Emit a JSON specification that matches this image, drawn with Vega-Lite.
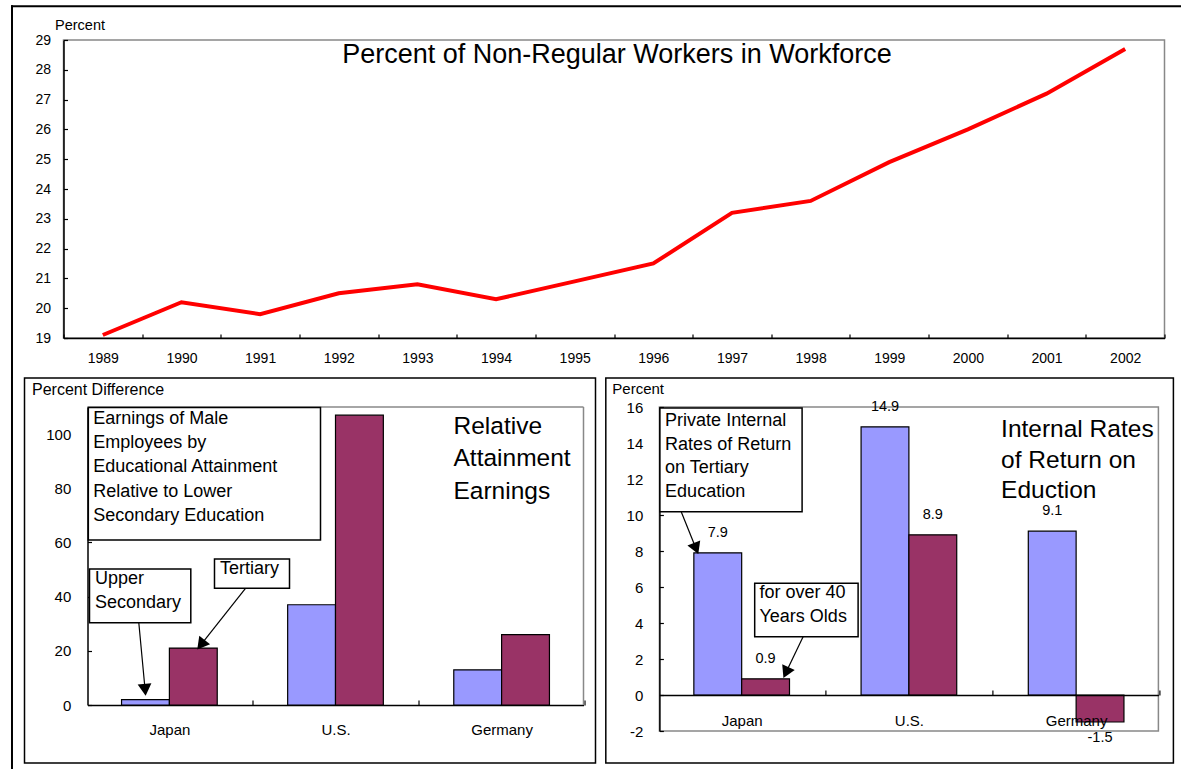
{
  "$schema": "https://vega.github.io/schema/vega-lite/v6.json",
  "background": "white",
  "padding": {"left": 9.5, "top": 4, "right": 0, "bottom": 0},
  "autosize": {"type": "pad"},
  "bounds": "full",
  "spacing": -4,
  "config": {
    "font": "Liberation Sans",
    "view": {"stroke": "#888888", "strokeWidth": 1.5},
    "axis": {
      "domainColor": "#000000", "domainWidth": 1.5,
      "tickColor": "#000000", "tickWidth": 1.2, "tickSize": -4,
      "labelColor": "#000000", "labelFont": "Liberation Sans", "labelFontSize": 15,
      "titleFont": "Liberation Sans", "titleColor": "#000000", "titleFontWeight": "normal", "titleFontSize": 15,
      "titleAngle": 0, "titleAlign": "left", "titleBaseline": "alphabetic",
      "grid": false, "labelOverlap": false
    },
    "text": {"font": "Liberation Sans", "color": "#000000"}
  },
  "datasets": {
    "nonreg": [
      {"year": "1989", "pct": 19.1}, {"year": "1990", "pct": 20.2}, {"year": "1991", "pct": 19.8},
      {"year": "1992", "pct": 20.5}, {"year": "1993", "pct": 20.8}, {"year": "1994", "pct": 20.3},
      {"year": "1995", "pct": 20.9}, {"year": "1996", "pct": 21.5}, {"year": "1997", "pct": 23.2},
      {"year": "1998", "pct": 23.6}, {"year": "1999", "pct": 24.9}, {"year": "2000", "pct": 26.0},
      {"year": "2001", "pct": 27.2}, {"year": "2002", "pct": 28.7}
    ],
    "earn": [
      {"country": "Japan", "level": "Upper Secondary", "value": 2},
      {"country": "Japan", "level": "Tertiary", "value": 21},
      {"country": "U.S.", "level": "Upper Secondary", "value": 37},
      {"country": "U.S.", "level": "Tertiary", "value": 107},
      {"country": "Germany", "level": "Upper Secondary", "value": 13},
      {"country": "Germany", "level": "Tertiary", "value": 26}
    ],
    "irr": [
      {"country": "Japan", "group": "Tertiary Education", "value": 7.9},
      {"country": "Japan", "group": "Over 40 Years Olds", "value": 0.9},
      {"country": "U.S.", "group": "Tertiary Education", "value": 14.9},
      {"country": "U.S.", "group": "Over 40 Years Olds", "value": 8.9},
      {"country": "Germany", "group": "Tertiary Education", "value": 9.1},
      {"country": "Germany", "group": "Over 40 Years Olds", "value": -1.5}
    ],
    "one": [{}]
  },
  "vconcat": [
    {
      "width": 1101,
      "height": 298,
      "resolve": {"scale": {"x": "independent"}, "axis": {"y": "independent"}},
      "layer": [
        {
          "data": {"name": "nonreg"},
          "mark": {"type": "line", "color": "#FF0000", "strokeWidth": 4},
          "encoding": {
            "x": {"field": "year", "type": "ordinal",
              "scale": {"type": "band", "paddingInner": 0, "paddingOuter": 0},
              "axis": {"title": null, "labelAngle": 0, "tickBand": "extent", "labelPadding": 17.3, "labelFontSize": 14}},
            "y": {"field": "pct", "type": "quantitative",
              "scale": {"domain": [19, 29], "nice": false, "zero": false},
              "axis": {"title": "Percent", "values": [19, 20, 21, 22, 23, 24, 25, 26, 27, 28, 29], "labelOverlap": false, "labelPadding": 17, "labelFontSize": 14, "titleFontSize": 14.5, "titleX": -9, "titleY": -10.7}}
          }
        },
        {
          "data": {"name": "one"},
          "mark": {"type": "text", "text": "Percent of Non-Regular Workers in Workforce", "fontSize": 27, "align": "center", "baseline": "alphabetic"},
          "encoding": {
            "x": {"datum": 7.038, "type": "quantitative", "scale": {"domain": [0, 14], "nice": false, "zero": false}, "axis": null},
            "y": {"datum": 28.228, "type": "quantitative", "scale": {"domain": [19, 29], "nice": false, "zero": false}, "axis": null}
          }
        },
        {
          "data": {"name": "one"},
          "mark": {"type": "rule", "color": "#000000", "strokeWidth": 2, "strokeCap": "square"},
          "encoding": {
            "x": {"datum": -0.6549, "type": "quantitative", "scale": {"domain": [0, 14], "nice": false, "zero": false}, "axis": null},
            "y": {"datum": 30.131, "type": "quantitative", "scale": {"domain": [19, 29], "nice": false, "zero": false}, "axis": null},
            "y2": {"datum": 17.681}
          }
        },
        {
          "data": {"name": "one"},
          "mark": {"type": "rule", "color": "#000000", "strokeWidth": 2, "strokeCap": "square"},
          "encoding": {
            "x": {"datum": -0.6549, "type": "quantitative", "scale": {"domain": [0, 14], "nice": false, "zero": false}, "axis": null},
            "x2": {"datum": 14.216},
            "y": {"datum": 30.131, "type": "quantitative", "scale": {"domain": [19, 29], "nice": false, "zero": false}, "axis": null}
          }
        }
      ]
    },
    {
      "hconcat": [
        {
          "width": 520,
          "height": 298,
          "view": {"stroke": null},
          "resolve": {"scale": {"x": "independent", "xOffset": "independent"}, "axis": {"y": "independent"}},
          "layer": [
            {
              "data": {"name": "earn"},
              "mark": {"type": "bar", "stroke": "#000000", "strokeWidth": 1.2},
              "encoding": {
                "x": {"field": "country", "type": "nominal",
                  "scale": {"domain": ["Japan", "U.S.", "Germany"], "paddingInner": 0.424, "paddingOuter": 0.205, "range": [24, 520]},
                  "axis": {"title": null, "labelAngle": 0, "bandPosition": 1, "tickOffset": 35.2, "labelOffset": -35.2, "labelPadding": 22.3, "tickSize": -5}},
                "xOffset": {"field": "level", "type": "nominal", "scale": {"domain": ["Upper Secondary", "Tertiary"], "paddingInner": 0, "paddingOuter": 0}},
                "y": {"field": "value", "type": "quantitative",
                  "scale": {"domain": [0, 110], "nice": false, "zero": false},
                  "axis": {"title": "Percent Difference", "titleFontSize": 16, "values": [0, 20, 40, 60, 80, 100], "labelOverlap": false, "labelPadding": 20.7, "titleX": -56, "titleY": -12.7, "offset": -24}},
                "color": {"field": "level", "type": "nominal",
                  "scale": {"domain": ["Upper Secondary", "Tertiary"], "range": ["#9999FF", "#993366"]}, "legend": null}
              }
            },
            {
              "data": {"name": "one"},
              "mark": {"type": "rule", "color": "#888888", "strokeWidth": 1.5},
              "encoding": {
                "x": {"datum": 0, "type": "quantitative", "scale": {"domain": [-0.14516, 3], "nice": false, "zero": false}, "axis": null},
                "x2": {"datum": 3},
                "y": {"datum": 110, "type": "quantitative", "scale": {"domain": [0, 110], "nice": false, "zero": false}, "axis": null}
              }
            },
            {
              "data": {"name": "one"},
              "mark": {"type": "rule", "color": "#888888", "strokeWidth": 1.5},
              "encoding": {
                "x": {"datum": 3, "type": "quantitative", "scale": {"domain": [-0.14516, 3], "nice": false, "zero": false}, "axis": null},
                "y": {"datum": 110, "type": "quantitative", "scale": {"domain": [0, 110], "nice": false, "zero": false}, "axis": null},
                "y2": {"datum": 0}
              }
            },
            {
              "data": {"name": "one"},
              "mark": {"type": "rect", "fill": "transparent", "stroke": "#000000", "strokeWidth": 1.5},
              "encoding": {
                "x": {"datum": -0.381, "type": "quantitative", "scale": {"domain": [-0.14516, 3], "nice": false, "zero": false}, "axis": null},
                "x2": {"datum": 3.0726},
                "y": {"datum": 120.7, "type": "quantitative", "scale": {"domain": [0, 110], "nice": false, "zero": false}, "axis": null},
                "y2": {"datum": -21.41}
              }
            },
            {
              "data": {"name": "one"},
              "mark": {"type": "rule", "color": "#000000", "strokeWidth": 2, "strokeCap": "square"},
              "encoding": {
                "x": {"datum": -0.4567, "type": "quantitative", "scale": {"domain": [-0.14516, 3], "nice": false, "zero": false}, "axis": null},
                "y": {"datum": 120.7, "type": "quantitative", "scale": {"domain": [0, 110], "nice": false, "zero": false}, "axis": null},
                "y2": {"datum": -23.25}
              }
            },
            {
              "data": {"name": "one"},
              "mark": {"type": "rect", "fill": "#FFFFFF", "stroke": "#000000", "strokeWidth": 1.5},
              "encoding": {
                "x": {"datum": 0.005, "type": "quantitative", "scale": {"domain": [-0.14516, 3], "nice": false, "zero": false}, "axis": null},
                "x2": {"datum": 1.4093},
                "y": {"datum": 109.8, "type": "quantitative", "scale": {"domain": [0, 110], "nice": false, "zero": false}, "axis": null},
                "y2": {"datum": 60.91}
              }
            },
            {
              "data": {"name": "one"},
              "mark": {"type": "text", "text": "Earnings of Male\nEmployees by\nEducational Attainment\nRelative to Lower\nSecondary Education", "lineBreak": "\n", "lineHeight": 24.2, "fontSize": 18, "align": "left", "baseline": "middle"},
              "encoding": {
                "x": {"datum": 0.0345, "type": "quantitative", "scale": {"domain": [-0.14516, 3], "nice": false, "zero": false}, "axis": null},
                "y": {"datum": 105.57, "type": "quantitative", "scale": {"domain": [0, 110], "nice": false, "zero": false}, "axis": null}
              }
            },
            {
              "data": {"name": "one"},
              "mark": {"type": "rect", "fill": "#FFFFFF", "stroke": "#000000", "strokeWidth": 1.5},
              "encoding": {
                "x": {"datum": 0.0121, "type": "quantitative", "scale": {"domain": [-0.14516, 3], "nice": false, "zero": false}, "axis": null},
                "x2": {"datum": 0.6248},
                "y": {"datum": 50.2, "type": "quantitative", "scale": {"domain": [0, 110], "nice": false, "zero": false}, "axis": null},
                "y2": {"datum": 30.38}
              }
            },
            {
              "data": {"name": "one"},
              "mark": {"type": "text", "text": "Upper\nSecondary", "lineBreak": "\n", "lineHeight": 24, "fontSize": 18, "align": "left", "baseline": "middle"},
              "encoding": {
                "x": {"datum": 0.0454, "type": "quantitative", "scale": {"domain": [-0.14516, 3], "nice": false, "zero": false}, "axis": null},
                "y": {"datum": 46.51, "type": "quantitative", "scale": {"domain": [0, 110], "nice": false, "zero": false}, "axis": null}
              }
            },
            {
              "data": {"name": "one"},
              "mark": {"type": "rect", "fill": "#FFFFFF", "stroke": "#000000", "strokeWidth": 1.5},
              "encoding": {
                "x": {"datum": 0.7681, "type": "quantitative", "scale": {"domain": [-0.14516, 3], "nice": false, "zero": false}, "axis": null},
                "x2": {"datum": 1.2218},
                "y": {"datum": 53.89, "type": "quantitative", "scale": {"domain": [0, 110], "nice": false, "zero": false}, "axis": null},
                "y2": {"datum": 43.08}
              }
            },
            {
              "data": {"name": "one"},
              "mark": {"type": "text", "text": "Tertiary", "fontSize": 18, "align": "left", "baseline": "middle"},
              "encoding": {
                "x": {"datum": 0.8014, "type": "quantitative", "scale": {"domain": [-0.14516, 3], "nice": false, "zero": false}, "axis": null},
                "y": {"datum": 50.09, "type": "quantitative", "scale": {"domain": [0, 110], "nice": false, "zero": false}, "axis": null}
              }
            },
            {
              "data": {"name": "one"},
              "mark": {"type": "rule", "color": "#000000", "strokeWidth": 1.2},
              "encoding": {
                "x": {"datum": 0.3103, "type": "quantitative", "scale": {"domain": [-0.14516, 3], "nice": false, "zero": false}, "axis": null},
                "x2": {"datum": 0.3472},
                "y": {"datum": 30.38, "type": "quantitative", "scale": {"domain": [0, 110], "nice": false, "zero": false}, "axis": null},
                "y2": {"datum": 6.35}
              }
            },
            {
              "data": {"name": "one"},
              "mark": {"type": "point", "shape": "triangle", "size": 190, "filled": true, "color": "#000000", "opacity": 1, "angle": 174.6},
              "encoding": {
                "x": {"datum": 0.3472, "type": "quantitative", "scale": {"domain": [-0.14516, 3], "nice": false, "zero": false}, "axis": null},
                "y": {"datum": 6.35, "type": "quantitative", "scale": {"domain": [0, 110], "nice": false, "zero": false}, "axis": null}
              }
            },
            {
              "data": {"name": "one"},
              "mark": {"type": "rule", "color": "#000000", "strokeWidth": 1.2},
              "encoding": {
                "x": {"datum": 0.9556, "type": "quantitative", "scale": {"domain": [-0.14516, 3], "nice": false, "zero": false}, "axis": null},
                "x2": {"datum": 0.6938},
                "y": {"datum": 43.08, "type": "quantitative", "scale": {"domain": [0, 110], "nice": false, "zero": false}, "axis": null},
                "y2": {"datum": 22.81}
              }
            },
            {
              "data": {"name": "one"},
              "mark": {"type": "point", "shape": "triangle", "size": 190, "filled": true, "color": "#000000", "opacity": 1, "angle": 218.3},
              "encoding": {
                "x": {"datum": 0.6938, "type": "quantitative", "scale": {"domain": [-0.14516, 3], "nice": false, "zero": false}, "axis": null},
                "y": {"datum": 22.81, "type": "quantitative", "scale": {"domain": [0, 110], "nice": false, "zero": false}, "axis": null}
              }
            },
            {
              "data": {"name": "one"},
              "mark": {"type": "text", "text": "Relative\nAttainment\nEarnings", "lineBreak": "\n", "lineHeight": 32.2, "fontSize": 24.5, "align": "left", "baseline": "middle"},
              "encoding": {
                "x": {"datum": 2.2137, "type": "quantitative", "scale": {"domain": [-0.14516, 3], "nice": false, "zero": false}, "axis": null},
                "y": {"datum": 102.51, "type": "quantitative", "scale": {"domain": [0, 110], "nice": false, "zero": false}, "axis": null}
              }
            }
          ]
        },
        {
          "width": 499,
          "height": 324,
          "resolve": {"scale": {"x": "independent", "xOffset": "independent"}, "axis": {"y": "independent"}},
          "layer": [
            {
              "data": {"name": "irr"},
              "mark": {"type": "bar", "stroke": "#000000", "strokeWidth": 1.2},
              "encoding": {
                "x": {"field": "country", "type": "nominal",
                  "scale": {"domain": ["Japan", "U.S.", "Germany"], "paddingInner": 0.428, "paddingOuter": 0.206},
                  "axis": {"title": null, "labelAngle": 0, "bandPosition": 1, "tickOffset": 35.8, "labelOffset": -35.8, "labelPadding": 23.8, "tickSize": -5, "offset": -36, "zindex": 1}},
                "xOffset": {"field": "group", "type": "nominal", "scale": {"domain": ["Tertiary Education", "Over 40 Years Olds"], "paddingInner": 0, "paddingOuter": 0}},
                "y": {"field": "value", "type": "quantitative",
                  "scale": {"domain": [-2, 16], "nice": false, "zero": false},
                  "axis": {"title": "Percent", "values": [-2, 0, 2, 4, 6, 8, 10, 12, 14, 16], "labelOverlap": false, "labelExpr": "'' + datum.value", "labelPadding": 20.6, "titleX": -47.6, "titleY": -14}},
                "color": {"field": "group", "type": "nominal",
                  "scale": {"domain": ["Tertiary Education", "Over 40 Years Olds"], "range": ["#9999FF", "#993366"]}, "legend": null}
              }
            },
            {
              "data": {"name": "irr"},
              "transform": [{"filter": "datum.value >= 0"}],
              "mark": {"type": "text", "fontSize": 14.5, "baseline": "middle", "align": "center", "dy": -20.3},
              "encoding": {
                "x": {"field": "country", "type": "nominal",
                  "scale": {"domain": ["Japan", "U.S.", "Germany"], "paddingInner": 0.428, "paddingOuter": 0.206}, "axis": null},
                "xOffset": {"field": "group", "type": "nominal", "scale": {"type": "point", "domain": ["Tertiary Education", "Over 40 Years Olds"], "padding": 0.5}},
                "y": {"field": "value", "type": "quantitative", "scale": {"domain": [-2, 16], "nice": false, "zero": false}, "axis": null},
                "text": {"field": "value", "type": "nominal"}
              }
            },
            {
              "data": {"name": "irr"},
              "transform": [{"filter": "datum.value < 0"}],
              "mark": {"type": "text", "fontSize": 14.5, "baseline": "middle", "align": "center", "dy": 15.7},
              "encoding": {
                "x": {"field": "country", "type": "nominal",
                  "scale": {"domain": ["Japan", "U.S.", "Germany"], "paddingInner": 0.428, "paddingOuter": 0.206}, "axis": null},
                "xOffset": {"field": "group", "type": "nominal", "scale": {"type": "point", "domain": ["Tertiary Education", "Over 40 Years Olds"], "padding": 0.5}},
                "y": {"field": "value", "type": "quantitative", "scale": {"domain": [-2, 16], "nice": false, "zero": false}, "axis": null},
                "text": {"field": "value", "type": "nominal"}
              }
            },
            {
              "data": {"name": "one"},
              "mark": {"type": "rect", "fill": "transparent", "stroke": "#000000", "strokeWidth": 1.5},
              "encoding": {
                "x": {"datum": -0.3222, "type": "quantitative", "scale": {"domain": [0, 3], "nice": false, "zero": false}, "axis": null},
                "x2": {"datum": 3.0902},
                "y": {"datum": 17.61, "type": "quantitative", "scale": {"domain": [-2, 16], "nice": false, "zero": false}, "axis": null},
                "y2": {"datum": -3.778}
              }
            },
            {
              "data": {"name": "one"},
              "mark": {"type": "rect", "fill": "#FFFFFF", "stroke": "#000000", "strokeWidth": 1.5},
              "encoding": {
                "x": {"datum": 0.003, "type": "quantitative", "scale": {"domain": [0, 3], "nice": false, "zero": false}, "axis": null},
                "x2": {"datum": 0.8579},
                "y": {"datum": 15.95, "type": "quantitative", "scale": {"domain": [-2, 16], "nice": false, "zero": false}, "axis": null},
                "y2": {"datum": 10.18}
              }
            },
            {
              "data": {"name": "one"},
              "mark": {"type": "text", "text": "Private Internal\nRates of Return\non Tertiary\nEducation", "lineBreak": "\n", "lineHeight": 23.9, "fontSize": 18, "align": "left", "baseline": "middle"},
              "encoding": {
                "x": {"datum": 0.0343, "type": "quantitative", "scale": {"domain": [0, 3], "nice": false, "zero": false}, "axis": null},
                "y": {"datum": 15.24, "type": "quantitative", "scale": {"domain": [-2, 16], "nice": false, "zero": false}, "axis": null}
              }
            },
            {
              "data": {"name": "one"},
              "mark": {"type": "rect", "fill": "#FFFFFF", "stroke": "#000000", "strokeWidth": 1.5},
              "encoding": {
                "x": {"datum": 0.5729, "type": "quantitative", "scale": {"domain": [0, 3], "nice": false, "zero": false}, "axis": null},
                "x2": {"datum": 1.1946},
                "y": {"datum": 6.206, "type": "quantitative", "scale": {"domain": [-2, 16], "nice": false, "zero": false}, "axis": null},
                "y2": {"datum": 3.239}
              }
            },
            {
              "data": {"name": "one"},
              "mark": {"type": "text", "text": "for over 40\nYears Olds", "lineBreak": "\n", "lineHeight": 24, "fontSize": 18, "align": "left", "baseline": "middle"},
              "encoding": {
                "x": {"datum": 0.6018, "type": "quantitative", "scale": {"domain": [0, 3], "nice": false, "zero": false}, "axis": null},
                "y": {"datum": 5.65, "type": "quantitative", "scale": {"domain": [-2, 16], "nice": false, "zero": false}, "axis": null}
              }
            },
            {
              "data": {"name": "one"},
              "mark": {"type": "rule", "color": "#000000", "strokeWidth": 1.2},
              "encoding": {
                "x": {"datum": 0.1317, "type": "quantitative", "scale": {"domain": [0, 3], "nice": false, "zero": false}, "axis": null},
                "x2": {"datum": 0.2158},
                "y": {"datum": 10.17, "type": "quantitative", "scale": {"domain": [-2, 16], "nice": false, "zero": false}, "axis": null},
                "y2": {"datum": 8.239}
              }
            },
            {
              "data": {"name": "one"},
              "mark": {"type": "point", "shape": "triangle", "size": 190, "filled": true, "color": "#000000", "opacity": 1, "angle": 158},
              "encoding": {
                "x": {"datum": 0.2158, "type": "quantitative", "scale": {"domain": [0, 3], "nice": false, "zero": false}, "axis": null},
                "y": {"datum": 8.239, "type": "quantitative", "scale": {"domain": [-2, 16], "nice": false, "zero": false}, "axis": null}
              }
            },
            {
              "data": {"name": "one"},
              "mark": {"type": "rule", "color": "#000000", "strokeWidth": 1.2},
              "encoding": {
                "x": {"datum": 0.8639, "type": "quantitative", "scale": {"domain": [0, 3], "nice": false, "zero": false}, "axis": null},
                "x2": {"datum": 0.7659},
                "y": {"datum": 3.239, "type": "quantitative", "scale": {"domain": [-2, 16], "nice": false, "zero": false}, "axis": null},
                "y2": {"datum": 1.344}
              }
            },
            {
              "data": {"name": "one"},
              "mark": {"type": "point", "shape": "triangle", "size": 190, "filled": true, "color": "#000000", "opacity": 1, "angle": 205},
              "encoding": {
                "x": {"datum": 0.7659, "type": "quantitative", "scale": {"domain": [0, 3], "nice": false, "zero": false}, "axis": null},
                "y": {"datum": 1.344, "type": "quantitative", "scale": {"domain": [-2, 16], "nice": false, "zero": false}, "axis": null}
              }
            },
            {
              "data": {"name": "one"},
              "mark": {"type": "text", "text": "Internal Rates\nof Return on\nEduction", "lineBreak": "\n", "lineHeight": 30.5, "fontSize": 24.5, "align": "left", "baseline": "middle"},
              "encoding": {
                "x": {"datum": 2.0543, "type": "quantitative", "scale": {"domain": [0, 3], "nice": false, "zero": false}, "axis": null},
                "y": {"datum": 14.72, "type": "quantitative", "scale": {"domain": [-2, 16], "nice": false, "zero": false}, "axis": null}
              }
            }
          ]
        }
      ],
      "bounds": "full",
      "spacing": 6.9
    }
  ]
}
